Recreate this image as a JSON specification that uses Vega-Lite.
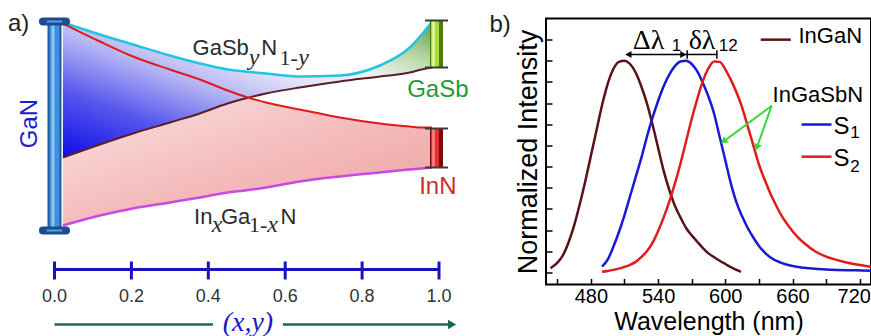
{
"$schema":"https://vega.github.io/schema/vega-lite/v6.json",
"background":"white",
"padding":{"left":0,"top":11.5,"right":0,"bottom":0},
"spacing":8,
"config":{"font":"Liberation Sans","view":{"stroke":null}},
"datasets":{
"schem":[
{"x":0.022,"cyan":262,"red":261,"brown":127,"magenta":59,"pinkTop":127},
{"x":0.118,"cyan":250,"red":243,"brown":140,"magenta":69,"pinkTop":140},
{"x":0.204,"cyan":240,"red":228,"brown":151,"magenta":76,"pinkTop":151},
{"x":0.300,"cyan":229,"red":215,"brown":162,"magenta":82,"pinkTop":162},
{"x":0.378,"cyan":221,"red":205,"brown":171,"magenta":87,"pinkTop":171},
{"x":0.45,"cyan":215,"red":194,"brown":181,"magenta":92,"pinkTop":181},
{"x":0.495,"cyan":213,"red":188,"brown":186,"magenta":94,"pinkTop":186},
{"x":0.55,"cyan":211,"red":182,"brown":191,"magenta":97,"pinkTop":182},
{"x":0.638,"cyan":208,"red":175,"brown":197,"magenta":103,"pinkTop":175},
{"x":0.742,"cyan":209,"red":167,"brown":203,"magenta":108,"pinkTop":167},
{"x":0.846,"cyan":219,"red":161,"brown":208,"magenta":112,"pinkTop":161},
{"x":0.924,"cyan":237,"red":158,"brown":212,"magenta":115,"pinkTop":158},
{"x":0.955,"cyan":250,"red":157,"brown":215,"magenta":116,"pinkTop":157},
{"x":0.982,"cyan":263,"red":157,"brown":217,"magenta":117,"pinkTop":157}
],
"spec":[
{"s":"InGaN","wl":444,"I":0.02},{"s":"InGaN","wl":450,"I":0.045},{"s":"InGaN","wl":455,"I":0.08},{"s":"InGaN","wl":460,"I":0.14},{"s":"InGaN","wl":465,"I":0.22},{"s":"InGaN","wl":470,"I":0.32},{"s":"InGaN","wl":475,"I":0.43},{"s":"InGaN","wl":480,"I":0.55},{"s":"InGaN","wl":485,"I":0.67},{"s":"InGaN","wl":490,"I":0.79},{"s":"InGaN","wl":495,"I":0.89},{"s":"InGaN","wl":500,"I":0.96},{"s":"InGaN","wl":505,"I":0.995},{"s":"InGaN","wl":510,"I":1.0},{"s":"InGaN","wl":515,"I":0.985},{"s":"InGaN","wl":520,"I":0.945},{"s":"InGaN","wl":525,"I":0.88},{"s":"InGaN","wl":530,"I":0.80},{"s":"InGaN","wl":535,"I":0.70},{"s":"InGaN","wl":540,"I":0.59},{"s":"InGaN","wl":545,"I":0.48},{"s":"InGaN","wl":550,"I":0.39},{"s":"InGaN","wl":555,"I":0.315},{"s":"InGaN","wl":560,"I":0.26},{"s":"InGaN","wl":565,"I":0.21},{"s":"InGaN","wl":570,"I":0.175},{"s":"InGaN","wl":575,"I":0.145},{"s":"InGaN","wl":580,"I":0.115},{"s":"InGaN","wl":585,"I":0.09},{"s":"InGaN","wl":590,"I":0.072},{"s":"InGaN","wl":595,"I":0.055},{"s":"InGaN","wl":600,"I":0.04},{"s":"InGaN","wl":605,"I":0.025},{"s":"InGaN","wl":610,"I":0.012},{"s":"InGaN","wl":614,"I":0.003},
{"s":"S1","wl":490,"I":0.027},{"s":"S1","wl":495,"I":0.06},{"s":"S1","wl":500,"I":0.12},{"s":"S1","wl":505,"I":0.19},{"s":"S1","wl":510,"I":0.27},{"s":"S1","wl":515,"I":0.36},{"s":"S1","wl":520,"I":0.45},{"s":"S1","wl":525,"I":0.54},{"s":"S1","wl":530,"I":0.64},{"s":"S1","wl":535,"I":0.73},{"s":"S1","wl":540,"I":0.81},{"s":"S1","wl":545,"I":0.88},{"s":"S1","wl":550,"I":0.935},{"s":"S1","wl":555,"I":0.975},{"s":"S1","wl":560,"I":0.997},{"s":"S1","wl":565,"I":1.0},{"s":"S1","wl":570,"I":0.985},{"s":"S1","wl":575,"I":0.95},{"s":"S1","wl":580,"I":0.895},{"s":"S1","wl":585,"I":0.83},{"s":"S1","wl":590,"I":0.75},{"s":"S1","wl":595,"I":0.64},{"s":"S1","wl":600,"I":0.53},{"s":"S1","wl":605,"I":0.42},{"s":"S1","wl":610,"I":0.33},{"s":"S1","wl":615,"I":0.265},{"s":"S1","wl":620,"I":0.21},{"s":"S1","wl":625,"I":0.165},{"s":"S1","wl":630,"I":0.125},{"s":"S1","wl":635,"I":0.095},{"s":"S1","wl":640,"I":0.072},{"s":"S1","wl":650,"I":0.045},{"s":"S1","wl":660,"I":0.03},{"s":"S1","wl":670,"I":0.022},{"s":"S1","wl":680,"I":0.017},{"s":"S1","wl":690,"I":0.014},{"s":"S1","wl":700,"I":0.012},{"s":"S1","wl":715,"I":0.01},{"s":"S1","wl":730,"I":0.008},
{"s":"S2","wl":490,"I":0.003},{"s":"S2","wl":495,"I":0.007},{"s":"S2","wl":500,"I":0.012},{"s":"S2","wl":505,"I":0.018},{"s":"S2","wl":510,"I":0.026},{"s":"S2","wl":515,"I":0.036},{"s":"S2","wl":520,"I":0.05},{"s":"S2","wl":525,"I":0.072},{"s":"S2","wl":530,"I":0.10},{"s":"S2","wl":535,"I":0.14},{"s":"S2","wl":540,"I":0.195},{"s":"S2","wl":545,"I":0.26},{"s":"S2","wl":550,"I":0.335},{"s":"S2","wl":555,"I":0.42},{"s":"S2","wl":560,"I":0.515},{"s":"S2","wl":565,"I":0.62},{"s":"S2","wl":570,"I":0.725},{"s":"S2","wl":575,"I":0.82},{"s":"S2","wl":580,"I":0.905},{"s":"S2","wl":585,"I":0.965},{"s":"S2","wl":590,"I":0.997},{"s":"S2","wl":595,"I":0.995},{"s":"S2","wl":600,"I":0.96},{"s":"S2","wl":605,"I":0.91},{"s":"S2","wl":610,"I":0.85},{"s":"S2","wl":615,"I":0.78},{"s":"S2","wl":620,"I":0.69},{"s":"S2","wl":625,"I":0.60},{"s":"S2","wl":630,"I":0.51},{"s":"S2","wl":635,"I":0.44},{"s":"S2","wl":640,"I":0.375},{"s":"S2","wl":645,"I":0.32},{"s":"S2","wl":650,"I":0.27},{"s":"S2","wl":655,"I":0.23},{"s":"S2","wl":660,"I":0.195},{"s":"S2","wl":665,"I":0.165},{"s":"S2","wl":670,"I":0.14},{"s":"S2","wl":680,"I":0.10},{"s":"S2","wl":690,"I":0.075},{"s":"S2","wl":700,"I":0.058},{"s":"S2","wl":710,"I":0.045},{"s":"S2","wl":720,"I":0.035},{"s":"S2","wl":730,"I":0.027}
]
},
"hconcat":[
{
"width":480,"height":266,
"view":{"stroke":null},
"layer":[
{"data":{"name":"schem"},"mark":{"type":"area","interpolate":"monotone","color":{"gradient":"linear","x1":0,"y1":1,"x2":1,"y2":0,"stops":[{"offset":0,"color":"#0c0ce6"},{"offset":0.25,"color":"#5858ee"},{"offset":0.45,"color":"#b4b4f4"},{"offset":0.6,"color":"#e4e4f8"},{"offset":0.72,"color":"#f2f4f0"},{"offset":0.85,"color":"#b8d8a8"},{"offset":1,"color":"#5c9e4c"}]}},
"encoding":{"x":{"field":"x","type":"quantitative","scale":{"domain":[-0.1417,1.1066],"nice":false,"zero":false},"axis":null},"y":{"field":"cyan","type":"quantitative","scale":{"domain":[0,266],"nice":false,"zero":false},"axis":null},"y2":{"field":"brown"}}},
{"data":{"name":"schem"},"mark":{"type":"area","interpolate":"monotone","color":{"gradient":"linear","x1":0,"y1":0,"x2":1,"y2":1,"stops":[{"offset":0,"color":"#fbe2e2"},{"offset":0.5,"color":"#f4bcbc"},{"offset":1,"color":"#ef9e9e"}]}},
"encoding":{"x":{"field":"x","type":"quantitative","scale":{"domain":[-0.1417,1.1066],"nice":false,"zero":false},"axis":null},"y":{"field":"pinkTop","type":"quantitative","scale":{"domain":[0,266],"nice":false,"zero":false},"axis":null},"y2":{"field":"magenta"}}},
{"data":{"name":"schem"},"mark":{"type":"line","interpolate":"monotone","color":"#22c4e4","strokeWidth":2.5},
"encoding":{"x":{"field":"x","type":"quantitative","scale":{"domain":[-0.1417,1.1066],"nice":false,"zero":false},"axis":null},"y":{"field":"cyan","type":"quantitative","scale":{"domain":[0,266],"nice":false,"zero":false},"axis":null}}},
{"data":{"name":"schem"},"mark":{"type":"line","interpolate":"monotone","color":"#5a1e28","strokeWidth":2},
"encoding":{"x":{"field":"x","type":"quantitative","scale":{"domain":[-0.1417,1.1066],"nice":false,"zero":false},"axis":null},"y":{"field":"brown","type":"quantitative","scale":{"domain":[0,266],"nice":false,"zero":false},"axis":null}}},
{"data":{"name":"schem"},"mark":{"type":"line","interpolate":"monotone","color":"#e01a1a","strokeWidth":2},
"encoding":{"x":{"field":"x","type":"quantitative","scale":{"domain":[-0.1417,1.1066],"nice":false,"zero":false},"axis":null},"y":{"field":"red","type":"quantitative","scale":{"domain":[0,266],"nice":false,"zero":false},"axis":null}}},
{"data":{"name":"schem"},"mark":{"type":"line","interpolate":"monotone","color":"#c848e8","strokeWidth":2.5},
"encoding":{"x":{"field":"x","type":"quantitative","scale":{"domain":[-0.1417,1.1066],"nice":false,"zero":false},"axis":null},"y":{"field":"magenta","type":"quantitative","scale":{"domain":[0,266],"nice":false,"zero":false},"axis":null}}},
{"data":{"values":[{"x":0,"top":263,"bottom":54}]},"mark":{"type":"rule","color":"#1d5ba6","strokeWidth":14},
"encoding":{"x":{"field":"x","type":"quantitative","scale":{"domain":[-0.1417,1.1066],"nice":false,"zero":false},"axis":null},"y":{"field":"top","type":"quantitative","scale":{"domain":[0,266],"nice":false,"zero":false},"axis":null},"y2":{"field":"bottom"}}},
{"data":{"values":[{"x":0,"top":263,"bottom":54}]},"mark":{"type":"rule","color":"#3f8fdc","strokeWidth":10},
"encoding":{"x":{"field":"x","type":"quantitative","scale":{"domain":[-0.1417,1.1066],"nice":false,"zero":false},"axis":null},"y":{"field":"top","type":"quantitative","scale":{"domain":[0,266],"nice":false,"zero":false},"axis":null},"y2":{"field":"bottom"}}},
{"data":{"values":[{"x":0,"top":263,"bottom":54}]},"mark":{"type":"rule","color":"#8cc6f2","strokeWidth":3,"xOffset":-1.5},
"encoding":{"x":{"field":"x","type":"quantitative","scale":{"domain":[-0.1417,1.1066],"nice":false,"zero":false},"axis":null},"y":{"field":"top","type":"quantitative","scale":{"domain":[0,266],"nice":false,"zero":false},"axis":null},"y2":{"field":"bottom"}}},
{"data":{"values":[{"x":-0.03,"x2":0.03,"v":263},{"x":-0.03,"x2":0.03,"v":54}]},"mark":{"type":"rule","color":"#1c4c8e","strokeWidth":8,"strokeCap":"round"},
"encoding":{"x":{"field":"x","type":"quantitative","scale":{"domain":[-0.1417,1.1066],"nice":false,"zero":false},"axis":null},"x2":{"field":"x2"},"y":{"field":"v","type":"quantitative","scale":{"domain":[0,266],"nice":false,"zero":false},"axis":null}}},
{"data":{"values":[{"x":-0.02,"x2":0.02,"v":263},{"x":-0.02,"x2":0.02,"v":54}]},"mark":{"type":"rule","color":"#5aa0e6","strokeWidth":2},
"encoding":{"x":{"field":"x","type":"quantitative","scale":{"domain":[-0.1417,1.1066],"nice":false,"zero":false},"axis":null},"x2":{"field":"x2"},"y":{"field":"v","type":"quantitative","scale":{"domain":[0,266],"nice":false,"zero":false},"axis":null}}},
{"data":{"values":[{"x":0.9935,"top":264,"bottom":217}]},"mark":{"type":"rule","color":"#4c7c12","strokeWidth":13},
"encoding":{"x":{"field":"x","type":"quantitative","scale":{"domain":[-0.1417,1.1066],"nice":false,"zero":false},"axis":null},"y":{"field":"top","type":"quantitative","scale":{"domain":[0,266],"nice":false,"zero":false},"axis":null},"y2":{"field":"bottom"}}},
{"data":{"values":[{"x":0.9935,"top":264,"bottom":217}]},"mark":{"type":"rule","color":"#a6dc3a","strokeWidth":8,"xOffset":-1.5},
"encoding":{"x":{"field":"x","type":"quantitative","scale":{"domain":[-0.1417,1.1066],"nice":false,"zero":false},"axis":null},"y":{"field":"top","type":"quantitative","scale":{"domain":[0,266],"nice":false,"zero":false},"axis":null},"y2":{"field":"bottom"}}},
{"data":{"values":[{"x":0.9935,"top":264,"bottom":217}]},"mark":{"type":"rule","color":"#e2ff9c","strokeWidth":2.5,"xOffset":-3},
"encoding":{"x":{"field":"x","type":"quantitative","scale":{"domain":[-0.1417,1.1066],"nice":false,"zero":false},"axis":null},"y":{"field":"top","type":"quantitative","scale":{"domain":[0,266],"nice":false,"zero":false},"axis":null},"y2":{"field":"bottom"}}},
{"data":{"values":[{"x":0.9935,"top":156,"bottom":117}]},"mark":{"type":"rule","color":"#7a0a0a","strokeWidth":13},
"encoding":{"x":{"field":"x","type":"quantitative","scale":{"domain":[-0.1417,1.1066],"nice":false,"zero":false},"axis":null},"y":{"field":"top","type":"quantitative","scale":{"domain":[0,266],"nice":false,"zero":false},"axis":null},"y2":{"field":"bottom"}}},
{"data":{"values":[{"x":0.9935,"top":156,"bottom":117}]},"mark":{"type":"rule","color":"#e62c2c","strokeWidth":8,"xOffset":-1.5},
"encoding":{"x":{"field":"x","type":"quantitative","scale":{"domain":[-0.1417,1.1066],"nice":false,"zero":false},"axis":null},"y":{"field":"top","type":"quantitative","scale":{"domain":[0,266],"nice":false,"zero":false},"axis":null},"y2":{"field":"bottom"}}},
{"data":{"values":[{"x":0.9935,"top":156,"bottom":117}]},"mark":{"type":"rule","color":"#ff8a8a","strokeWidth":2.5,"xOffset":-3},
"encoding":{"x":{"field":"x","type":"quantitative","scale":{"domain":[-0.1417,1.1066],"nice":false,"zero":false},"axis":null},"y":{"field":"top","type":"quantitative","scale":{"domain":[0,266],"nice":false,"zero":false},"axis":null},"y2":{"field":"bottom"}}},
{"data":{"values":[{"x":0.9636,"x2":1.0234,"v":264},{"x":0.9636,"x2":1.0234,"v":217},{"x":0.9636,"x2":1.0234,"v":156},{"x":0.9636,"x2":1.0234,"v":117}]},"mark":{"type":"rule","color":"#3a3a3a","strokeWidth":2},
"encoding":{"x":{"field":"x","type":"quantitative","scale":{"domain":[-0.1417,1.1066],"nice":false,"zero":false},"axis":null},"x2":{"field":"x2"},"y":{"field":"v","type":"quantitative","scale":{"domain":[0,266],"nice":false,"zero":false},"axis":null}}},
{"data":{"values":[{"t":"GaSb","x":0.359,"v":230},{"t":"N","x":0.538,"v":230},{"t":"In","x":0.363,"v":61},{"t":"Ga","x":0.433,"v":61},{"t":"N","x":0.588,"v":61}]},"mark":{"type":"text","fontSize":22,"align":"left","baseline":"alphabetic","color":"#2b2b2b"},
"encoding":{"x":{"field":"x","type":"quantitative","scale":{"domain":[-0.1417,1.1066],"nice":false,"zero":false},"axis":null},"y":{"field":"v","type":"quantitative","scale":{"domain":[0,266],"nice":false,"zero":false},"axis":null},"text":{"field":"t"}}},
{"data":{"values":[{"t":"y","x":0.505,"v":220},{"t":"y","x":0.634,"v":220},{"t":"x","x":0.409,"v":53},{"t":"x","x":0.553,"v":53}]},"mark":{"type":"text","font":"Liberation Serif","fontStyle":"italic","fontSize":24,"align":"left","baseline":"alphabetic","color":"#2b2b2b"},
"encoding":{"x":{"field":"x","type":"quantitative","scale":{"domain":[-0.1417,1.1066],"nice":false,"zero":false},"axis":null},"y":{"field":"v","type":"quantitative","scale":{"domain":[0,266],"nice":false,"zero":false},"axis":null},"text":{"field":"t"}}},
{"data":{"values":[{"t":"1-","x":0.585,"v":220},{"t":"1-","x":0.506,"v":53}]},"mark":{"type":"text","font":"Liberation Serif","fontSize":22,"align":"left","baseline":"alphabetic","color":"#2b2b2b"},
"encoding":{"x":{"field":"x","type":"quantitative","scale":{"domain":[-0.1417,1.1066],"nice":false,"zero":false},"axis":null},"y":{"field":"v","type":"quantitative","scale":{"domain":[0,266],"nice":false,"zero":false},"axis":null},"text":{"field":"t"}}},
{"data":{"values":[{"t":"GaN","x":-0.064,"v":161}]},"mark":{"type":"text","fontSize":24,"angle":270,"align":"center","baseline":"middle","color":"#1c1cc8"},
"encoding":{"x":{"field":"x","type":"quantitative","scale":{"domain":[-0.1417,1.1066],"nice":false,"zero":false},"axis":null},"y":{"field":"v","type":"quantitative","scale":{"domain":[0,266],"nice":false,"zero":false},"axis":null},"text":{"field":"t"}}},
{"data":{"values":[{"t":"a)","x":-0.121,"v":260.5}]},"mark":{"type":"text","fontSize":24,"align":"left","baseline":"middle","color":"#222222"},
"encoding":{"x":{"field":"x","type":"quantitative","scale":{"domain":[-0.1417,1.1066],"nice":false,"zero":false},"axis":null},"y":{"field":"v","type":"quantitative","scale":{"domain":[0,266],"nice":false,"zero":false},"axis":null},"text":{"field":"t"}}},
{"data":{"values":[{"t":"GaSb","x":0.997,"v":195}]},"mark":{"type":"text","fontSize":24,"align":"center","baseline":"middle","color":"#1e9a3c"},
"encoding":{"x":{"field":"x","type":"quantitative","scale":{"domain":[-0.1417,1.1066],"nice":false,"zero":false},"axis":null},"y":{"field":"v","type":"quantitative","scale":{"domain":[0,266],"nice":false,"zero":false},"axis":null},"text":{"field":"t"}}},
{"data":{"values":[{"t":"InN","x":0.997,"v":98}]},"mark":{"type":"text","fontSize":24,"align":"center","baseline":"middle","color":"#d42a2a"},
"encoding":{"x":{"field":"x","type":"quantitative","scale":{"domain":[-0.1417,1.1066],"nice":false,"zero":false},"axis":null},"y":{"field":"v","type":"quantitative","scale":{"domain":[0,266],"nice":false,"zero":false},"axis":null},"text":{"field":"t"}}},
{"data":{"values":[{"x":0,"x2":1,"v":15}]},"mark":{"type":"rule","color":"#1414c0","strokeWidth":3},
"encoding":{"x":{"field":"x","type":"quantitative","scale":{"domain":[-0.1417,1.1066],"nice":false,"zero":false},"axis":null},"x2":{"field":"x2"},"y":{"field":"v","type":"quantitative","scale":{"domain":[0,266],"nice":false,"zero":false},"axis":null}}},
{"data":{"values":[{"x":0,"v":23,"v2":5},{"x":0.2,"v":23,"v2":5},{"x":0.4,"v":23,"v2":5},{"x":0.6,"v":23,"v2":5},{"x":0.8,"v":23,"v2":5},{"x":1,"v":23,"v2":5}]},"mark":{"type":"rule","color":"#1414c0","strokeWidth":3},
"encoding":{"x":{"field":"x","type":"quantitative","scale":{"domain":[-0.1417,1.1066],"nice":false,"zero":false},"axis":null},"y":{"field":"v","type":"quantitative","scale":{"domain":[0,266],"nice":false,"zero":false},"axis":null},"y2":{"field":"v2"}}},
{"data":{"values":[{"t":"0.0","x":0,"v":-12},{"t":"0.2","x":0.2,"v":-12},{"t":"0.4","x":0.4,"v":-12},{"t":"0.6","x":0.6,"v":-12},{"t":"0.8","x":0.8,"v":-12},{"t":"1.0","x":1,"v":-12}]},"mark":{"type":"text","fontSize":18,"align":"center","baseline":"middle","color":"#333333"},
"encoding":{"x":{"field":"x","type":"quantitative","scale":{"domain":[-0.1417,1.1066],"nice":false,"zero":false},"axis":null},"y":{"field":"v","type":"quantitative","scale":{"domain":[0,266],"nice":false,"zero":false},"axis":null},"text":{"field":"t"}}},
{"data":{"values":[{"x":0,"x2":0.412,"v":-40},{"x":0.594,"x2":1.03,"v":-40}]},"mark":{"type":"rule","color":"#1b6b48","strokeWidth":2.5},
"encoding":{"x":{"field":"x","type":"quantitative","scale":{"domain":[-0.1417,1.1066],"nice":false,"zero":false},"axis":null},"x2":{"field":"x2"},"y":{"field":"v","type":"quantitative","scale":{"domain":[0,266],"nice":false,"zero":false},"axis":null}}},
{"data":{"values":[{"x":1.034,"v":-40}]},"mark":{"type":"point","shape":"triangle-right","filled":true,"size":90,"opacity":1,"color":"#1b6b48"},
"encoding":{"x":{"field":"x","type":"quantitative","scale":{"domain":[-0.1417,1.1066],"nice":false,"zero":false},"axis":null},"y":{"field":"v","type":"quantitative","scale":{"domain":[0,266],"nice":false,"zero":false},"axis":null}}},
{"data":{"values":[{"t":"(x,y)","x":0.503,"v":-38}]},"mark":{"type":"text","font":"Liberation Serif","fontStyle":"italic","fontSize":28,"align":"center","baseline":"middle","color":"#1a1ac4"},
"encoding":{"x":{"field":"x","type":"quantitative","scale":{"domain":[-0.1417,1.1066],"nice":false,"zero":false},"axis":null},"y":{"field":"v","type":"quantitative","scale":{"domain":[0,266],"nice":false,"zero":false},"axis":null},"text":{"field":"t"}}}
]
},
{
"width":325,"height":266,
"view":{"stroke":"#000000","strokeWidth":2},
"encoding":{
"x":{"field":"wl","type":"quantitative","scale":{"domain":[440,730],"nice":false,"zero":false},"axis":{"values":[450,480,510,540,570,600,630,660,690,720],"labelExpr":"datum.value % 60 == 0 ? datum.label : ''","labelOffset":{"condition":{"test":"datum.value == 720","value":-6},"value":0},"labelOverlap":false,"labelFlush":false,"tickSize":-6,"tickColor":"#000","tickWidth":1.5,"domain":false,"grid":false,"labelFontSize":20,"labelColor":"#000","labelPadding":8,"title":"Wavelength (nm)","titleFontSize":25,"titleFontWeight":"normal","titleColor":"#000","titlePadding":3}},
"y":{"field":"I","type":"quantitative","scale":{"domain":[-0.057,1.2],"nice":false,"zero":false},"axis":{"values":[0,0.1,0.2,0.3,0.4,0.5,0.6,0.7,0.8,0.9,1.0,1.1],"tickSize":-6,"tickColor":"#000","tickWidth":1.5,"labels":false,"domain":false,"grid":false,"title":"Normalized Intensity","titleFontSize":27,"titleFontWeight":"normal","titleColor":"#000","titlePadding":3}}
},
"layer":[
{"data":{"name":"spec"},"mark":{"type":"line","interpolate":"monotone","strokeWidth":2.5},
"encoding":{"color":{"field":"s","type":"nominal","scale":{"domain":["InGaN","S1","S2"],"range":["#5c1018","#1a1ad6","#e01c1c"]},"legend":null}}},
{"data":{"values":[{"wl":631.6,"wl2":658.4,"I":1.10,"s":"InGaN"},{"wl":668,"wl2":694.8,"I":0.699,"s":"S1"},{"wl":668,"wl2":694.8,"I":0.547,"s":"S2"}]},"mark":{"type":"rule","strokeWidth":2.5},
"encoding":{"x2":{"field":"wl2"},"color":{"field":"s","type":"nominal","scale":{"domain":["InGaN","S1","S2"],"range":["#5c1018","#1a1ad6","#e01c1c"]},"legend":null}}},
{"data":{"values":[{"wl":665.3,"I":1.115,"t":"InGaN"},{"wl":642.2,"I":0.84,"t":"InGaSbN"}]},"mark":{"type":"text","fontSize":22,"align":"left","baseline":"middle","color":"#000"},
"encoding":{"text":{"field":"t"}}},
{"data":{"values":[{"wl":696.6,"I":0.689,"t":"S"},{"wl":696.6,"I":0.538,"t":"S"}]},"mark":{"type":"text","fontSize":24,"align":"left","baseline":"middle","color":"#000"},
"encoding":{"text":{"field":"t"}}},
{"data":{"values":[{"wl":711.5,"I":0.657,"t":"1"},{"wl":711.5,"I":0.50,"t":"2"},{"wl":552.1,"I":1.068,"t":"1"},{"wl":594.1,"I":1.068,"t":"12"}]},"mark":{"type":"text","fontSize":17,"align":"left","baseline":"middle","color":"#000"},
"encoding":{"text":{"field":"t"}}},
{"data":{"values":[{"wl":517.3,"I":1.095,"t":"Δλ"},{"wl":567.3,"I":1.095,"t":"δλ"}]},"mark":{"type":"text","font":"Liberation Serif","fontSize":28,"align":"left","baseline":"middle","color":"#000"},
"encoding":{"text":{"field":"t"}}},
{"data":{"values":[{"wl":512,"wl2":565,"I":1.03},{"wl":565,"wl2":592.5,"I":1.03}]},"mark":{"type":"rule","color":"#000","strokeWidth":1.5},
"encoding":{"x2":{"field":"wl2"}}},
{"data":{"values":[{"wl":566,"I":1.01,"I2":1.05},{"wl":592.5,"I":1.01,"I2":1.05}]},"mark":{"type":"rule","color":"#000","strokeWidth":1.5},
"encoding":{"y2":{"field":"I2"}}},
{"data":{"values":[{"wl":513.5,"I":1.03}]},"mark":{"type":"point","shape":"triangle-left","filled":true,"size":50,"opacity":1,"color":"#000"}},
{"data":{"values":[{"wl":562.5,"I":1.03}]},"mark":{"type":"point","shape":"triangle-right","filled":true,"size":50,"opacity":1,"color":"#000"}},
{"data":{"values":[{"wl":641.4,"I":0.788,"wl2":598.4,"I2":0.619},{"wl":641.4,"I":0.788,"wl2":628.2,"I2":0.591}]},"mark":{"type":"rule","color":"#35d835","strokeWidth":2},
"encoding":{"x2":{"field":"wl2"},"y2":{"field":"I2"}}},
{"data":{"values":[{"wl":598.4,"I":0.619}]},"mark":{"type":"point","shape":"triangle-up","angle":233,"filled":true,"size":60,"opacity":1,"color":"#35d835"}},
{"data":{"values":[{"wl":628.2,"I":0.591}]},"mark":{"type":"point","shape":"triangle-up","angle":200,"filled":true,"size":60,"opacity":1,"color":"#35d835"}},
{"data":{"values":[{"wl":389.5,"I":1.17,"t":"b)"}]},"mark":{"type":"text","fontSize":24,"align":"left","baseline":"middle","color":"#222222"},
"encoding":{"text":{"field":"t"}}}
]
}
]
}
